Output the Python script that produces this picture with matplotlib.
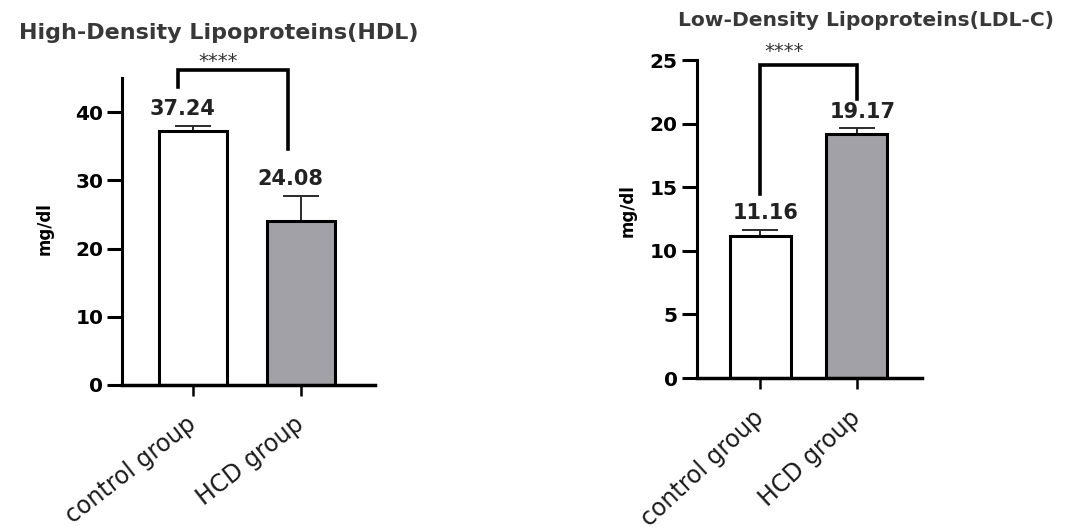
import numpy as np
import matplotlib.pyplot as plt

plt.rcParams['font.family'] = ['DejaVu Sans']

groups = ['control group', 'HCD group']

hdl_mean = [37.24, 24.08]
hdl_err = [0.7, 3.6]
hdl_labels = ['37.24', '24.08']

ldl_mean = [11.16, 19.17]
ldl_err = [0.5, 0.45]
ldl_labels = ['11.16', '19.17']

bar_colors = ['white', '#a2a1a7']


def draw_panel(ax, means, errs, labels, ylim, yticks, bracket, star_x, star_y,
               label_dx, rot):
    '''
    Bar chart with upward error bars, value labels and a significance bracket.
    bracket: (x_left, x_right, y_top, y_left_end, y_right_end) in data units
    '''
    x = np.arange(len(means))
    ax.bar(x, means, width=0.63, color=bar_colors, edgecolor='black',
           linewidth=2.2, zorder=2)
    ax.errorbar(x, means, yerr=[np.zeros(len(errs)), errs], fmt='none',
                ecolor='#2a2a2a', elinewidth=1.4, capsize=13, capthick=1.4,
                zorder=1)
    for xi, m, e, lab in zip(x, means, errs, labels):
        ax.annotate(lab, (xi, m + e), xytext=(label_dx, 5),
                    textcoords='offset points', ha='center', va='bottom',
                    fontsize=15, fontweight='bold', color='#222222')

    xl, xr, yt, yle, yre = bracket
    ax.plot([xl, xl, xr, xr], [yle, yt, yt, yre], color='black', lw=2.6,
            clip_on=False, solid_joinstyle='miter')
    ax.text(star_x, star_y, '****', ha='center', va='center', fontsize=14,
            color='#333333')

    ax.set_ylim(*ylim)
    ax.set_xlim(-0.66, 1.68)
    ax.set_yticks(yticks)
    ax.set_xticks(x)
    ax.set_xticklabels(groups, rotation=rot, ha='right', va='center',
                       rotation_mode='anchor', fontsize=17, color='#1a1a1a')
    for lab in ax.get_yticklabels():
        lab.set_fontweight('bold')
        lab.set_fontsize(14.5)
    ax.spines['top'].set_visible(False)
    ax.spines['right'].set_visible(False)
    ax.spines['left'].set_linewidth(2.2)
    ax.spines['bottom'].set_linewidth(2.5)
    ax.tick_params(axis='y', width=2.2, length=10.5, pad=3)
    ax.tick_params(axis='x', width=1.8, length=8, pad=18)


fig = plt.figure(figsize=(10.7, 5.31), dpi=100)

ax1 = fig.add_axes([0.114, 0.275, 0.236, 0.578])
draw_panel(ax1, hdl_mean, hdl_err, hdl_labels, (0, 45), [0, 10, 20, 30, 40],
           (-0.14, 0.88, 46.2, 43.7, 34.6), 0.23, 47.5, -8, 38)
fig.text(0.204, 0.937, 'High-Density Lipoproteins(HDL)', ha='center',
         va='center', fontsize=16, fontweight='bold', color='#383838')
fig.text(0.042, 0.57, 'mg/dl', rotation=90, ha='center', va='center',
         fontsize=12, fontweight='bold')

ax2 = fig.add_axes([0.651, 0.288, 0.211, 0.599])
draw_panel(ax2, ldl_mean, ldl_err, ldl_labels, (0, 25), [0, 5, 10, 15, 20, 25],
           (0.0, 1.0, 24.6, 14.5, 21.9), 0.25, 25.7, 4, 43)
fig.text(0.809, 0.962, 'Low-Density Lipoproteins(LDL-C)', ha='center',
         va='center', fontsize=14.6, fontweight='bold', color='#383838')
fig.text(0.587, 0.603, 'mg/dl', rotation=90, ha='center', va='center',
         fontsize=12, fontweight='bold')

fig.savefig('out.png', dpi=100)
